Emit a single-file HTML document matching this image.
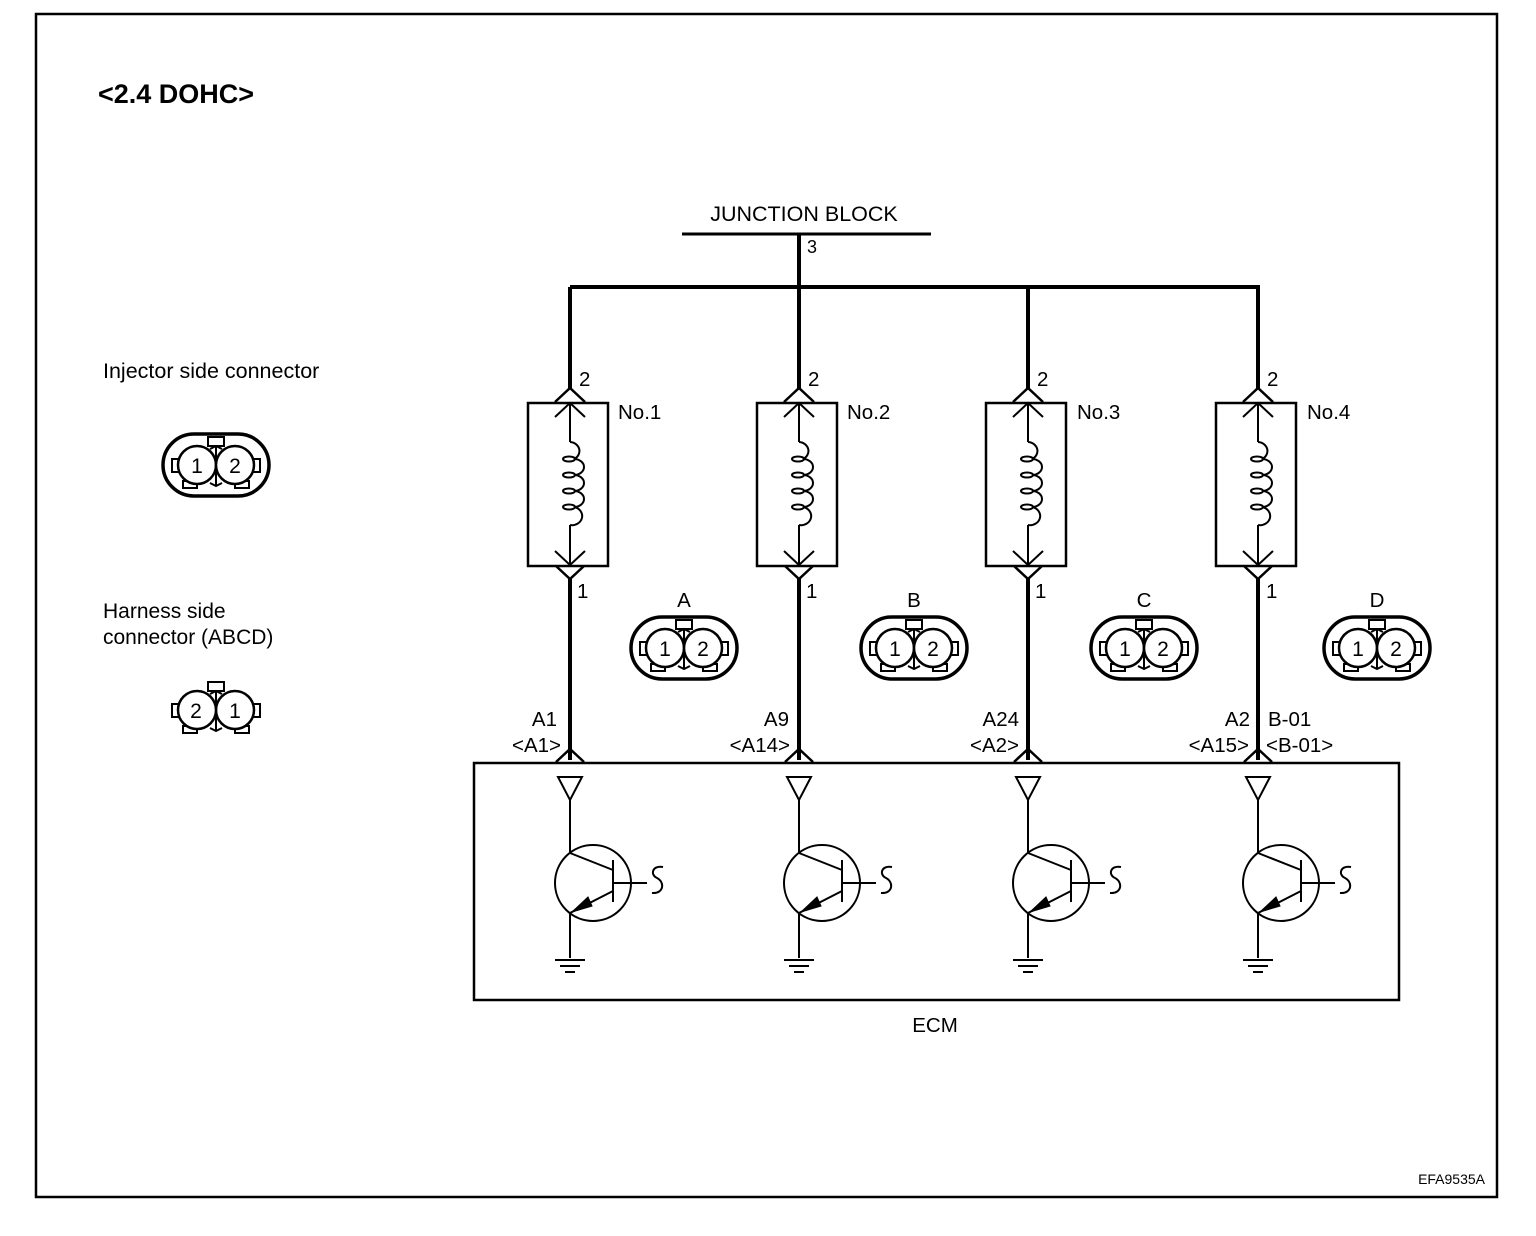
<!DOCTYPE html>
<html><head><meta charset="utf-8"><style>
html,body{margin:0;padding:0;background:#fff}
svg{display:block}
text{font-family:"Liberation Sans",Arial,sans-serif;fill:#000}
</style></head><body>
<svg width="1536" height="1236" viewBox="0 0 1536 1236" xmlns="http://www.w3.org/2000/svg">
<defs>
<g id="pins">
  <rect x="-8" y="-28" width="16" height="9" fill="#fff" stroke="#000" stroke-width="2"/>
  <line x1="0" y1="-19" x2="0" y2="21" stroke="#000" stroke-width="2"/>
  <rect x="-44" y="-6" width="7" height="13" fill="#fff" stroke="#000" stroke-width="2"/>
  <rect x="37" y="-6" width="7" height="13" fill="#fff" stroke="#000" stroke-width="2"/>
  <rect x="-33" y="16" width="14" height="7" fill="#fff" stroke="#000" stroke-width="2"/>
  <rect x="19" y="16" width="14" height="7" fill="#fff" stroke="#000" stroke-width="2"/>
  <circle cx="-19" cy="0" r="19" fill="#fff" stroke="#000" stroke-width="2.5"/>
  <circle cx="19" cy="0" r="19" fill="#fff" stroke="#000" stroke-width="2.5"/>
  <path d="M-6 -16 L0 -19 L6 -16 M-6 18 L0 21 L6 18" stroke="#000" stroke-width="2" fill="none"/>
</g>
<g id="conn">
  <rect x="-53" y="-31" width="106" height="62" rx="31" fill="#fff" stroke="#000" stroke-width="3.5"/>
  <use href="#pins"/>
</g>
<g id="inj" fill="none" stroke="#000">
  <rect x="-42" y="403" width="80" height="163" stroke-width="2.5"/>
  <path d="M0 402 V442 M0 525 V565" stroke-width="2"/>
  <path d="M-15 402 L0 388 L15 402" stroke-width="2.5"/>
  <path d="M-15 417 L0 403 L15 417" stroke-width="2"/>
  <path d="M-15 551 L0 565 L15 551" stroke-width="2"/>
  <path d="M-14 566 L0 579 L14 566" stroke-width="2.5"/>
  <path d="M0 442 A10 9 0 0 1 4 459 A10 8 0 0 1 4 475 A10 8 0 0 1 4 491 A10 8 0 0 1 4 507 A10 9 0 0 1 0 525" stroke-width="2"/>
  <ellipse cx="-1" cy="459" rx="6" ry="2.5" stroke-width="2"/>
  <ellipse cx="-1" cy="475" rx="6" ry="2.5" stroke-width="2"/>
  <ellipse cx="-1" cy="491" rx="6" ry="2.5" stroke-width="2"/>
  <ellipse cx="-1" cy="507" rx="6" ry="2.5" stroke-width="2"/>
  <path d="M-14 762 L0 749 L14 762" stroke-width="2.5"/>
  <path d="M-12 777 H12 L0 800 Z" stroke-width="2"/>
  <path d="M0 800 V853 L43 870 M43 860 V902 M43 883 H77" stroke-width="2"/>
  <path d="M93 867 C82 865,80 875,87 878 C95 882,94 894,82 893" stroke-width="2"/>
  <circle cx="23" cy="883" r="38" stroke-width="2"/>
  <path d="M43 891 L0 913 V958" stroke-width="2"/>
  <path d="M2 912 L18 897 L22 906 Z" fill="#000" stroke-width="1"/>
  <path d="M-15 960 H15 M-10 966 H10 M-5 972 H5" stroke-width="2"/>
</g>
</defs>
<rect x="36" y="14" width="1461" height="1183" fill="none" stroke="#000" stroke-width="2.5"/>
<text x="98" y="103" font-size="27" font-weight="bold">&lt;2.4 DOHC&gt;</text>
<text x="103" y="378" font-size="21.5">Injector side connector</text>
<text x="103" y="618" font-size="21">Harness side</text>
<text x="103" y="644" font-size="21">connector (ABCD)</text>
<use href="#conn" x="216" y="465"/>
<g transform="translate(216,710) scale(-1,1)"><use href="#pins"/></g>
<g font-size="21" text-anchor="middle">
<text x="196" y="718">2</text><text x="235" y="718">1</text>
<text x="197" y="473">1</text><text x="235" y="473">2</text>
</g>
<text x="804" y="221" font-size="21.5" text-anchor="middle">JUNCTION BLOCK</text>
<path d="M682 234 H931" stroke="#000" stroke-width="3"/>
<text x="807" y="253" font-size="18">3</text>
<path d="M799 234 V287 M570 287 H1260 M570 287 V389 M799 287 V389 M1028 287 V389 M1258 287 V389 M570 578 V760 M799 578 V760 M1028 578 V760 M1258 578 V760" stroke="#000" stroke-width="4" fill="none"/>
<rect x="474" y="763" width="925" height="237" fill="none" stroke="#000" stroke-width="2.5"/>
<use href="#inj" x="570"/><use href="#inj" x="799"/><use href="#inj" x="1028"/><use href="#inj" x="1258"/>
<g font-size="20.5">
<text x="579" y="386">2</text><text x="808" y="386">2</text><text x="1037" y="386">2</text><text x="1267" y="386">2</text>
<text x="577" y="598">1</text><text x="806" y="598">1</text><text x="1035" y="598">1</text><text x="1266" y="598">1</text>
<text x="618" y="419">No.1</text><text x="847" y="419">No.2</text><text x="1077" y="419">No.3</text><text x="1307" y="419">No.4</text>
<text x="684" y="607" text-anchor="middle">A</text><text x="914" y="607" text-anchor="middle">B</text>
<text x="1144" y="607" text-anchor="middle">C</text><text x="1377" y="607" text-anchor="middle">D</text>
<g text-anchor="end">
<text x="557" y="726">A1</text><text x="561" y="752">&lt;A1&gt;</text>
<text x="789" y="726">A9</text><text x="790" y="752">&lt;A14&gt;</text>
<text x="1019" y="726">A24</text><text x="1019" y="752">&lt;A2&gt;</text>
<text x="1250" y="726">A2</text><text x="1249" y="752">&lt;A15&gt;</text>
</g>
<text x="1268" y="726">B-01</text><text x="1266" y="752">&lt;B-01&gt;</text>
<text x="935" y="1032" text-anchor="middle">ECM</text>
</g>
<use href="#conn" x="684" y="648"/><use href="#conn" x="914" y="648"/><use href="#conn" x="1144" y="648"/><use href="#conn" x="1377" y="648"/>
<g font-size="21" text-anchor="middle">
<text x="665" y="656">1</text><text x="703" y="656">2</text>
<text x="895" y="656">1</text><text x="933" y="656">2</text>
<text x="1125" y="656">1</text><text x="1163" y="656">2</text>
<text x="1358" y="656">1</text><text x="1396" y="656">2</text>
</g>
<text x="1485" y="1184" font-size="14" text-anchor="end">EFA9535A</text>
</svg>
</body></html>
